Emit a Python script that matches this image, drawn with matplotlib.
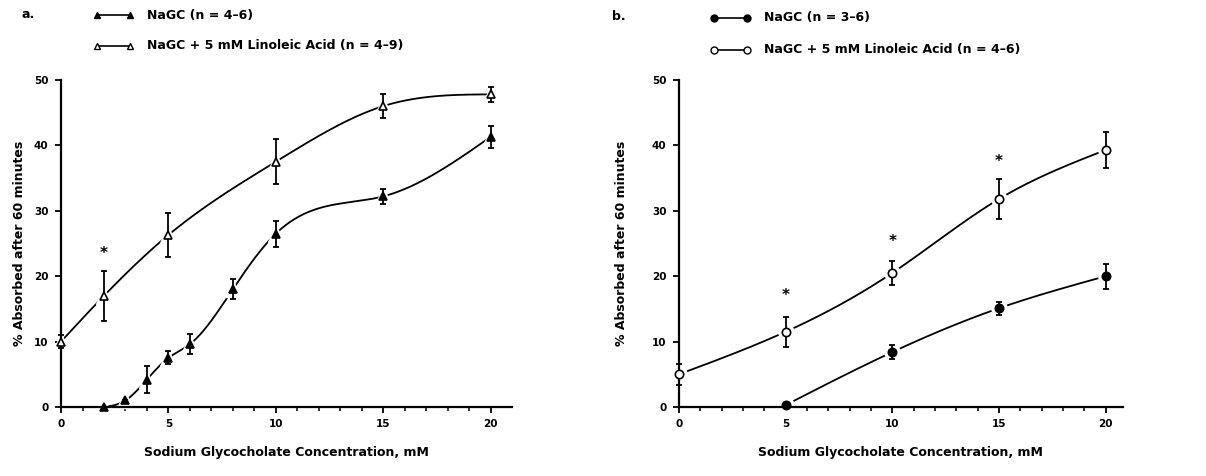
import numpy as np
import matplotlib
matplotlib.use("Agg")
import matplotlib.pyplot as plt

# ── dados ────────────────────────────────────────────────
# painel a
a_x_nagc   = [2, 3, 4, 5, 6, 8, 10, 15, 20]
a_y_nagc   = [0.0, 1.0, 4.2, 7.5, 9.6, 18.0, 26.5, 32.2, 41.3]
a_e_nagc   = [0.0, 0.0, 2.0, 1.0, 1.5, 1.5, 2.0, 1.2, 1.7]
a_x_lin    = [0, 2, 5, 10, 15, 20]
a_y_lin    = [10.0, 17.0, 26.3, 37.5, 46.0, 47.8]
a_e_lin    = [1.0, 3.8, 3.4, 3.4, 1.8, 1.1]
a_x_star   = [2]
a_y_star   = [23.5]

# painel b
b_x_nagc   = [5, 10, 15, 20]
b_y_nagc   = [0.3, 8.4, 15.1, 20.0]
b_e_nagc   = [0.0, 1.1, 1.0, 1.9]
b_x_lin    = [0, 5, 10, 15, 20]
b_y_lin    = [5.0, 11.5, 20.5, 31.8, 39.3]
b_e_lin    = [1.6, 2.3, 1.8, 3.0, 2.8]
b_x_star   = [5, 10, 15]
b_y_star   = [17.0, 25.3, 37.5]

labels_a = ["NaGC (n = 4–6)", "NaGC + 5 mM Linoleic Acid (n = 4–9)"]
labels_b = ["NaGC (n = 3–6)", "NaGC + 5 mM Linoleic Acid (n = 4–6)"]


def spline(x, y, xs):
    # spline cúbica natural só para desenhar a curva suave
    x = np.asarray(x, float)
    y = np.asarray(y, float)
    n = len(x)
    h = np.diff(x)
    A = np.zeros((n, n))
    r = np.zeros(n)
    A[0, 0] = A[-1, -1] = 1
    for i in range(1, n - 1):
        A[i, i - 1] = h[i - 1]
        A[i, i] = 2 * (h[i - 1] + h[i])
        A[i, i + 1] = h[i]
        r[i] = 3 * ((y[i + 1] - y[i]) / h[i] - (y[i] - y[i - 1]) / h[i - 1])
    c = np.linalg.solve(A, r)
    b = (y[1:] - y[:-1]) / h - h * (2 * c[:-1] + c[1:]) / 3
    d = (c[1:] - c[:-1]) / (3 * h)
    idx = np.clip(np.searchsorted(x, xs) - 1, 0, n - 2)
    t = xs - x[idx]
    return y[idx] + b[idx] * t + c[idx] * t**2 + d[idx] * t**3


def serie(ax, x, y, e, marker, filled, ms):
    xs = np.linspace(x[0], x[-1], 300)
    ys = np.clip(spline(x, y, xs), 0, None)
    ax.plot(xs, ys, color="black", lw=1.3, zorder=1, clip_on=False)
    ax.plot(x, y, ls="none", marker=marker, ms=ms + 5, color="white",
            mec="white", zorder=2, clip_on=False)
    ax.errorbar(x, y, yerr=e, fmt="none", ecolor="black", elinewidth=1.3,
                capsize=2.5, capthick=1.3, zorder=3, clip_on=False)
    ax.plot(x, y, ls="none", marker=marker, ms=ms, mew=1.2,
            mfc="black" if filled else "white", mec="black", zorder=4,
            clip_on=False)


def eixo(ax, xmax, ypad):
    ax.set_xlim(0, xmax)
    ax.set_ylim(0, 50)
    ax.spines["top"].set_visible(False)
    ax.spines["right"].set_visible(False)
    ax.spines["left"].set_linewidth(1.6)
    ax.spines["bottom"].set_linewidth(1.6)
    ax.set_xticks([0, 5, 10, 15, 20])
    ax.set_xticks(np.arange(0, 21, 1), minor=True)
    ax.set_yticks([0, 10, 20, 30, 40, 50])
    ax.tick_params(axis="both", which="major", direction="out", length=4,
                   width=1.3, labelsize=7.5, pad=5)
    ax.tick_params(axis="x", which="minor", direction="out", length=3, width=1.1)
    for lab in ax.get_xticklabels() + ax.get_yticklabels():
        lab.set_fontweight("bold")
    ax.set_xlabel("Sodium Glycocholate Concentration, mM", fontsize=9,
                  fontweight="bold", labelpad=12)
    ax.set_ylabel("% Absorbed after 60 minutes", fontsize=9,
                  fontweight="bold", labelpad=ypad)


fig = plt.figure(figsize=(12.06, 4.76), dpi=100)
ax_a = fig.add_axes([0.0506, 0.145, 0.374, 0.687])
ax_b = fig.add_axes([0.563, 0.145, 0.368, 0.687])

# ── Painel a ─────────────────────────────────────────────
eixo(ax_a, 21, 6)
serie(ax_a, a_x_lin, a_y_lin, a_e_lin, "^", False, 6)
serie(ax_a, a_x_nagc, a_y_nagc, a_e_nagc, "^", True, 6)
for xs_, ys_ in zip(a_x_star, a_y_star):
    ax_a.text(xs_, ys_, "*", ha="center", va="center", fontsize=11,
              fontweight="bold")

# ── Painel b ─────────────────────────────────────────────
eixo(ax_b, 20.8, 17)
serie(ax_b, b_x_lin, b_y_lin, b_e_lin, "o", False, 6)
serie(ax_b, b_x_nagc, b_y_nagc, b_e_nagc, "o", True, 6)
for xs_, ys_ in zip(b_x_star, b_y_star):
    ax_b.text(xs_, ys_, "*", ha="center", va="center", fontsize=11,
              fontweight="bold")

# ── Letras e legendas ────────────────────────────────────
fig.text(22 / 1206, 1 - 14 / 476, "a.", fontsize=9, fontweight="bold", va="center")
fig.text(612 / 1206, 1 - 16 / 476, "b.", fontsize=9, fontweight="bold", va="center")


def legenda(x0, y0, marker, filled, texto):
    yy = 1 - y0 / 476
    xa, xb = x0 / 1206, (x0 + 33) / 1206
    fig.add_artist(plt.Line2D([xa, xb], [yy, yy], color="black", lw=1.2,
                              transform=fig.transFigure))
    fig.add_artist(plt.Line2D([xa, xb], [yy, yy], ls="none", marker=marker,
                              ms=5, mfc="black" if filled else "white",
                              mec="black", mew=1.0, transform=fig.transFigure))
    fig.text((x0 + 50) / 1206, yy, texto, fontsize=9, fontweight="bold",
             va="center")


legenda(97, 15, "^", True, labels_a[0])
legenda(97, 46, "^", False, labels_a[1])
legenda(714, 18, "o", True, labels_b[0])
legenda(714, 50, "o", False, labels_b[1])

fig.savefig("out.png", dpi=100)
